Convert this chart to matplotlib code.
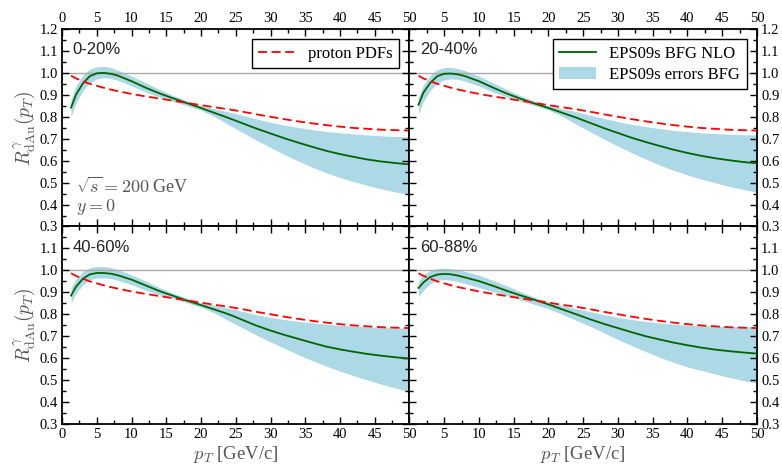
import numpy as np
import matplotlib
matplotlib.use("Agg")
import matplotlib.pyplot as plt
from matplotlib.ticker import MultipleLocator
from matplotlib.patches import Patch
from matplotlib.lines import Line2D

plt.rcParams['font.family'] = ['Liberation Serif', 'DejaVu Serif']
plt.rcParams['mathtext.fontset'] = 'cm'

# pT grid (GeV/c)
pt = [1.3, 2, 3, 4, 5, 6, 7, 8, 10, 12, 14, 16, 18, 20, 22, 24, 26, 28,
      30, 32, 34, 36, 38, 40, 42, 44, 46, 48, 50]

# proton PDFs only (same in every centrality class)
proton = [0.987, 0.975, 0.962, 0.950, 0.941, 0.932, 0.924, 0.917, 0.904, 0.893,
          0.883, 0.873, 0.863, 0.853, 0.843, 0.834, 0.823, 0.811, 0.800, 0.789,
          0.779, 0.770, 0.762, 0.755, 0.749, 0.745, 0.741, 0.739, 0.737]

centrality = ['0-20%', '20-40%', '40-60%', '60-88%']

# EPS09s BFG NLO central values
central_0_20 = [0.842, 0.900, 0.952, 0.985, 0.998, 1.000, 0.996, 0.988, 0.962, 0.933,
                0.907, 0.884, 0.862, 0.840, 0.817, 0.794, 0.770, 0.746, 0.724, 0.702,
                0.682, 0.663, 0.645, 0.630, 0.617, 0.605, 0.596, 0.589, 0.583]
central_20_40 = [0.855, 0.910, 0.955, 0.985, 0.996, 0.997, 0.993, 0.985, 0.962, 0.933,
                 0.906, 0.882, 0.860, 0.840, 0.818, 0.796, 0.772, 0.748, 0.726, 0.704,
                 0.685, 0.667, 0.650, 0.635, 0.622, 0.611, 0.602, 0.594, 0.588]
central_40_60 = [0.885, 0.925, 0.962, 0.982, 0.988, 0.988, 0.985, 0.978, 0.958, 0.932,
                 0.906, 0.884, 0.862, 0.842, 0.821, 0.800, 0.774, 0.748, 0.726, 0.706,
                 0.688, 0.670, 0.653, 0.640, 0.629, 0.619, 0.611, 0.604, 0.598]
central_60_88 = [0.920, 0.945, 0.970, 0.981, 0.984, 0.982, 0.976, 0.968, 0.951, 0.930,
                 0.907, 0.886, 0.866, 0.845, 0.822, 0.800, 0.777, 0.756, 0.737, 0.718,
                 0.700, 0.685, 0.671, 0.659, 0.648, 0.639, 0.632, 0.626, 0.621]

# EPS09s error band, upper edge
upper_0_20 = [0.880, 0.940, 0.990, 1.018, 1.028, 1.030, 1.025, 1.013, 0.986, 0.956,
              0.925, 0.897, 0.872, 0.851, 0.836, 0.822, 0.806, 0.790, 0.775, 0.762,
              0.751, 0.742, 0.733, 0.727, 0.722, 0.717, 0.713, 0.710, 0.709]
upper_20_40 = [0.890, 0.945, 0.990, 1.015, 1.024, 1.025, 1.020, 1.010, 0.985, 0.955,
               0.924, 0.896, 0.872, 0.851, 0.836, 0.823, 0.807, 0.792, 0.778, 0.765,
               0.755, 0.746, 0.738, 0.732, 0.727, 0.723, 0.720, 0.718, 0.717]
upper_40_60 = [0.920, 0.960, 0.995, 1.012, 1.018, 1.018, 1.013, 1.004, 0.980, 0.952,
               0.922, 0.896, 0.873, 0.853, 0.840, 0.828, 0.813, 0.798, 0.786, 0.776,
               0.768, 0.761, 0.755, 0.750, 0.746, 0.743, 0.740, 0.738, 0.737]
upper_60_88 = [0.950, 0.980, 1.000, 1.008, 1.011, 1.008, 1.002, 0.995, 0.978, 0.955,
               0.930, 0.903, 0.877, 0.857, 0.840, 0.826, 0.812, 0.798, 0.786, 0.776,
               0.767, 0.760, 0.755, 0.751, 0.748, 0.746, 0.745, 0.744, 0.744]

# EPS09s error band, lower edge
lower_0_20 = [0.800, 0.862, 0.918, 0.955, 0.972, 0.978, 0.975, 0.966, 0.941, 0.913,
              0.890, 0.870, 0.850, 0.830, 0.800, 0.763, 0.728, 0.693, 0.660, 0.628,
              0.598, 0.570, 0.545, 0.523, 0.504, 0.487, 0.471, 0.457, 0.445]
lower_20_40 = [0.815, 0.870, 0.920, 0.953, 0.968, 0.973, 0.970, 0.962, 0.940, 0.913,
               0.890, 0.870, 0.851, 0.831, 0.802, 0.766, 0.732, 0.698, 0.666, 0.636,
               0.607, 0.580, 0.556, 0.535, 0.516, 0.499, 0.483, 0.469, 0.456]
lower_40_60 = [0.850, 0.895, 0.935, 0.958, 0.965, 0.966, 0.963, 0.955, 0.935, 0.910,
               0.889, 0.872, 0.852, 0.832, 0.805, 0.770, 0.738, 0.705, 0.674, 0.645,
               0.616, 0.589, 0.564, 0.541, 0.520, 0.500, 0.481, 0.464, 0.447]
lower_60_88 = [0.880, 0.910, 0.940, 0.955, 0.958, 0.955, 0.948, 0.940, 0.922, 0.903,
               0.886, 0.865, 0.845, 0.825, 0.800, 0.772, 0.745, 0.715, 0.685, 0.657,
               0.630, 0.604, 0.581, 0.560, 0.544, 0.528, 0.512, 0.498, 0.486]

centrals = [central_0_20, central_20_40, central_40_60, central_60_88]
uppers = [upper_0_20, upper_20_40, upper_40_60, upper_60_88]
lowers = [lower_0_20, lower_20_40, lower_40_60, lower_60_88]

band_color = '#add8e6'
green = '#006400'
gray_text = '#555555'

fig, axes = plt.subplots(2, 2, figsize=(7.82, 4.66), dpi=100)
fig.subplots_adjust(left=0.0793, right=0.968, top=0.9378, bottom=0.0901,
                    hspace=0, wspace=0)

yticks = np.round(np.arange(0.3, 1.21, 0.1), 1)
xticks = np.arange(0, 51, 5)

for i, ax in enumerate(axes.flat):
    row, col = divmod(i, 2)
    ax.fill_between(pt, lowers[i], uppers[i], color=band_color, lw=0)
    ax.axhline(1.0, color='#aaaaaa', lw=1.0, zorder=1)
    ax.plot(pt, centrals[i], color=green, lw=1.3, zorder=3)
    ax.plot(pt, proton, color='red', lw=1.3, dashes=(5, 2.5), zorder=4)

    ax.set_xlim(0, 50)
    ax.set_ylim(0.3, 1.2)
    ax.set_yticks(yticks)
    ax.set_xticks(xticks)
    ax.xaxis.set_minor_locator(MultipleLocator(2.5))
    ax.yaxis.set_minor_locator(MultipleLocator(0.05))
    ax.tick_params(which='both', direction='in', top=True, right=True,
                   labelsize=10.5, width=1.0, pad=3)
    ax.tick_params(which='major', length=5)
    ax.tick_params(which='minor', length=3)
    for s in ax.spines.values():
        s.set_linewidth(1.3)

    # neighbouring panels share an edge, so drop the labels that would overlap
    ylabels = ['%.1f' % v for v in yticks]
    xlabels = ['%d' % v for v in xticks]
    if row == 1:
        ylabels[-1] = ''
    if col == 1:
        xlabels[0] = ''
    ax.set_yticklabels(ylabels)
    ax.set_xticklabels(xlabels)

    ax.tick_params(labeltop=(row == 0), labelbottom=(row == 1),
                   labelleft=(col == 0), labelright=(col == 1))

    ax.text(0.03, 0.895, centrality[i], transform=ax.transAxes, fontsize=12,
            family='Liberation Sans', color='#222222', va='center', ha='left')

    if col == 0:
        ax.set_ylabel(r'$R^{\gamma}_{\rm dAu}(p_T)$', fontsize=14,
                      color=gray_text, labelpad=2)
    if row == 1:
        ax.set_xlabel(r'$p_T$ [GeV/c]', fontsize=13.5, color=gray_text,
                      labelpad=2)

ax0 = axes[0, 0]
ax0.text(0.04, 0.20, r'$\sqrt{s} = 200$ GeV', transform=ax0.transAxes,
         fontsize=13, color=gray_text, va='center')
ax0.text(0.04, 0.10, r'$y = 0$', transform=ax0.transAxes,
         fontsize=13, color=gray_text, va='center')

leg1 = ax0.legend(handles=[Line2D([], [], color='red', lw=1.3, dashes=(5, 2.5))],
                  labels=['proton PDFs'], loc='upper right', fontsize=12,
                  fancybox=False, edgecolor='black', framealpha=1,
                  handlelength=2.2, borderaxespad=0.6)
leg1.get_frame().set_linewidth(1.0)

ax1 = axes[0, 1]
leg2 = ax1.legend(handles=[Line2D([], [], color=green, lw=1.3),
                           Patch(facecolor=band_color, edgecolor='none')],
                  labels=['EPS09s BFG NLO', 'EPS09s errors BFG'],
                  loc='upper right', fontsize=12, fancybox=False,
                  edgecolor='black', framealpha=1, handlelength=2.2,
                  borderaxespad=0.6, labelspacing=0.3)
leg2.get_frame().set_linewidth(1.0)

fig.savefig('out.png', dpi=100)
